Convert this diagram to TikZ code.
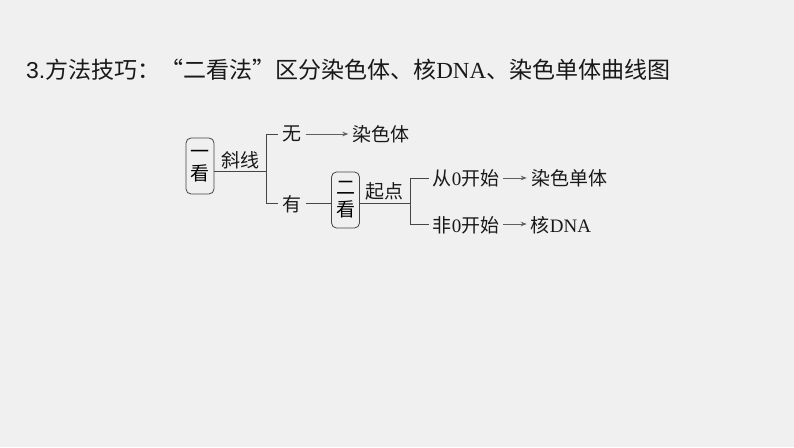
\documentclass[tikz,border=0pt]{standalone}
\usepackage{fontspec}
\setmainfont{Liberation Serif}
\setsansfont{Liberation Sans}
\newfontfamily\cjk{Noto Sans CJK SC}
\usetikzlibrary{arrows.meta}
\definecolor{bg}{HTML}{F0F0F0}
\definecolor{ln}{HTML}{454545}
\definecolor{ar}{HTML}{606060}
\tikzset{
  lbl/.style={inner sep=4pt, font=\fontsize{19}{22}\selectfont, text=black!90},
  kbox/.style={draw=ln, line width=0.8pt, rounded corners=5pt, minimum width=28pt, minimum height=56pt, inner sep=0pt, align=center, font=\fontsize{19}{22}\selectfont\cjk},
  conn/.style={draw=ln, line width=0.8pt},
  arr/.style={draw=ar, line width=0.8pt, -{Stealth[length=6pt,width=4.5pt]}},
}
\begin{document}
\begin{tikzpicture}[x=1pt,y=-1pt]
\fill[bg] (0,0) rectangle (794,447);
\useasboundingbox (0,0) rectangle (794,447);
\node[anchor=base west, inner sep=0pt, font=\fontsize{23}{26}\selectfont, text=black!90] (title) at (26,78)
  {{\sffamily 3.}{\cjk 方法技巧：“二看法”区分染色体、核}DNA{\cjk 、染色单体曲线图}};
% first look
\node[kbox] (b1) at (200,166) {一\\看};
\coordinate (j1) at (266,171);
\coordinate (j1t) at (266,134);
\coordinate (j1b) at (266,203);
\draw[conn] (b1.east |- j1) -- node[lbl, above, inner sep=2pt, font=\fontsize{19}{22}\selectfont\cjk] (xx) {斜线} (j1);
\draw[conn] (j1t) -- (j1b);
\node[lbl, font=\fontsize{19}{22}\selectfont\cjk] (wu) at (292,134) {无};
\node[lbl, font=\fontsize{19}{22}\selectfont\cjk] (rst) at (381,134) {染色体};
\node[lbl, font=\fontsize{19}{22}\selectfont\cjk] (you) at (292,204) {有};
\draw[conn] (j1t) -- (wu.west |- j1t);
\draw[conn] (j1b) -- (you.west |- j1b);
\draw[arr] (wu.east |- j1t) -- (rst.west |- j1t);
% second look
\node[kbox] (b2) at (345.5,200) {二\\看};
\draw[conn] (you.east |- j1b) -- (b2.west |- j1b);
\coordinate (j2) at (410,203);
\coordinate (j2t) at (410,178);
\coordinate (j2b) at (410,224);
\draw[conn] (b2.east |- j2) -- node[lbl, above, inner sep=2pt, font=\fontsize{19}{22}\selectfont\cjk] (qd) {起点} (j2);
\draw[conn] (j2t) -- (j2b);
\node[lbl] (c0) at (466,178) {{\cjk 从}0{\cjk 开始}};
\node[lbl] (n0) at (466,225) {{\cjk 非}0{\cjk 开始}};
\node[lbl] (rsdt) at (569,178) {{\cjk 染色单体}};
\node[lbl] (dna) at (561,225) {{\cjk 核}DNA};
\draw[conn] (j2t) -- (c0.west |- j2t);
\draw[conn] (j2b) -- (n0.west |- j2b);
\draw[arr] (c0.east |- j2t) -- (rsdt.west |- j2t);
\draw[arr] (n0.east |- j2b) -- (dna.west |- j2b);
\end{tikzpicture}
\end{document}
